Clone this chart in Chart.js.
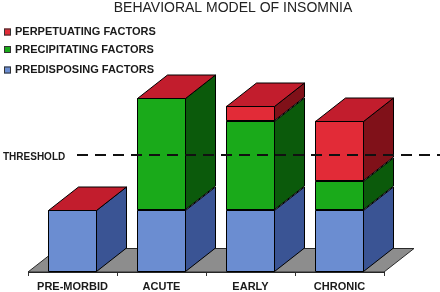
<!DOCTYPE html>
<html>
<head>
<meta charset="utf-8">
<script src="https://cdn.jsdelivr.net/npm/chart.js@4"></script>
<style>
  html, body { margin: 0; padding: 0; background: #ffffff; }
  canvas { display: block; }
</style>
</head>
<body>
<canvas id="c" width="440" height="292"></canvas>
<script>
const titleText = 'BEHAVIORAL MODEL OF INSOMNIA';
const categories = ['PRE-MORBID', 'ACUTE', 'EARLY', 'CHRONIC'];
const predisposing = [10, 10, 10, 10];
const precipitating = [0, 18, 14.4, 4.6];
const perpetuating = [0, 0, 2.4, 9.8];
const thresholdValue = 18.8;
const thresholdLabel = 'THRESHOLD';
const legendLabels = ['PERPETUATING FACTORS', 'PRECIPITATING FACTORS', 'PREDISPOSING FACTORS'];
const yMax = 30;

const DX = 30, DY = -23.5;
const FONT = '"Liberation Sans", Arial, sans-serif';
const TEXT = '#1a1a1a';

const palette = {
  blue:  { front: '#6b8dd1', side: '#3a5494', top: '#5575b8' },
  green: { front: '#1aaa1a', side: '#0b5a0b', top: '#128a12' },
  red:   { front: '#e22b37', side: '#801119', top: '#c21d2d' }
};

function poly(ctx, pts, fill, stroke) {
  ctx.beginPath();
  ctx.moveTo(pts[0][0], pts[0][1]);
  for (let i = 1; i < pts.length; i++) ctx.lineTo(pts[i][0], pts[i][1]);
  ctx.closePath();
  if (fill) { ctx.fillStyle = fill; ctx.fill(); }
  ctx.lineWidth = 1;
  ctx.strokeStyle = stroke;
  ctx.stroke();
}

const threeD = {
  id: 'threeD',
  beforeDatasetsDraw(chart) {
    const ctx = chart.ctx;
    const a = chart.chartArea;
    ctx.save();
    poly(ctx, [
      [a.left, a.bottom], [a.left + DX, a.bottom + DY],
      [a.right + DX, a.bottom + DY], [a.right, a.bottom]
    ], '#8d8d8d', '#2a2a2a');
    ctx.restore();
  },
  afterDatasetsDraw(chart) {
    const ctx = chart.ctx;
    const nData = chart.data.labels.length;
    const nSets = chart.data.datasets.length;
    ctx.save();
    for (let i = 0; i < nData; i++) {
      let topEl = null, topSet = null;
      for (let d = 0; d < nSets; d++) {
        const meta = chart.getDatasetMeta(d);
        const el = meta.data[i];
        const p = el.getProps(['x', 'y', 'base', 'width'], true);
        const ds = chart.data.datasets[d];
        const L = Math.round(p.x - p.width / 2) + 0.5, R = Math.round(p.x + p.width / 2) - 0.5;
        const top = Math.round(Math.min(p.y, p.base)) + 0.5, bot = Math.round(Math.max(p.y, p.base)) - 0.5;
        if (bot - top > 0.5) {
          poly(ctx, [[R, top], [R + DX, top + DY], [R + DX, bot + DY], [R, bot]], ds.sideColor, '#000');
          poly(ctx, [[L, top], [R, top], [R, bot], [L, bot]], null, '#000');
        }
        topEl = { L, R, top };
        topSet = ds;
      }
      if (topEl) {
        poly(ctx, [[topEl.L, topEl.top], [topEl.L + DX, topEl.top + DY],
                   [topEl.R + DX, topEl.top + DY], [topEl.R, topEl.top]], topSet.topColor, '#000');
      }
    }
    ctx.restore();
  },
  afterDraw(chart) {
    const ctx = chart.ctx;
    const yScale = chart.scales.y;
    ctx.save();
    const ty = Math.round(yScale.getPixelForValue(thresholdValue));
    ctx.beginPath();
    ctx.setLineDash([11, 7]);
    ctx.lineWidth = 2;
    ctx.strokeStyle = '#111';
    ctx.moveTo(77, ty);
    ctx.lineTo(440, ty);
    ctx.stroke();
    ctx.setLineDash([]);
    ctx.fillStyle = TEXT;
    ctx.font = 'bold 10px ' + FONT;
    ctx.textAlign = 'left';
    ctx.textBaseline = 'middle';
    ctx.fillText(thresholdLabel, 3, ty + 2);

    ctx.font = '14px ' + FONT;
    ctx.textAlign = 'center';
    ctx.fillStyle = '#222';
    ctx.fillText(titleText, 233, 8);

    const rows = [32, 49.5, 70];
    const cols = [palette.red.front, palette.green.front, palette.blue.front];
    ctx.font = 'bold 11px ' + FONT;
    ctx.textAlign = 'left';
    for (let k = 0; k < legendLabels.length; k++) {
      ctx.fillStyle = cols[k];
      ctx.fillRect(4, rows[k] - 3.5, 7, 7);
      ctx.strokeStyle = '#333';
      ctx.lineWidth = 1;
      ctx.strokeRect(4.5, rows[k] - 3, 6, 6);
      ctx.fillStyle = TEXT;
      ctx.fillText(legendLabels[k], 15, rows[k]);
    }
    ctx.restore();
  }
};

new Chart(document.getElementById('c'), {
  type: 'bar',
  data: {
    labels: categories,
    datasets: [
      { label: legendLabels[2], data: predisposing, backgroundColor: palette.blue.front,
        sideColor: palette.blue.side, topColor: palette.blue.top },
      { label: legendLabels[1], data: precipitating, backgroundColor: palette.green.front,
        sideColor: palette.green.side, topColor: palette.green.top },
      { label: legendLabels[0], data: perpetuating, backgroundColor: palette.red.front,
        sideColor: palette.red.side, topColor: palette.red.top }
    ]
  },
  options: {
    responsive: false,
    animation: false,
    devicePixelRatio: 1,
    layout: { padding: { left: 28, right: 56, top: 86, bottom: 0 } },
    datasets: {
      bar: {
        categoryPercentage: 1,
        barPercentage: 0.55,
        borderWidth: 0
      }
    },
    plugins: {
      legend: { display: false },
      tooltip: { enabled: false },
      title: { display: false }
    },
    scales: {
      x: {
        stacked: true,
        offset: true,
        afterFit(scale) { scale.height = 20; },
        grid: { display: true, drawOnChartArea: false, drawTicks: true, tickLength: 4, color: '#333', offset: true },
        border: { display: true, color: '#222', width: 1 },
        ticks: { color: TEXT, padding: 4, font: { family: FONT, size: 11, weight: 'bold' } }
      },
      y: {
        stacked: true,
        display: false,
        min: 0,
        max: yMax
      }
    }
  },
  plugins: [threeD]
});
</script>
</body>
</html>
